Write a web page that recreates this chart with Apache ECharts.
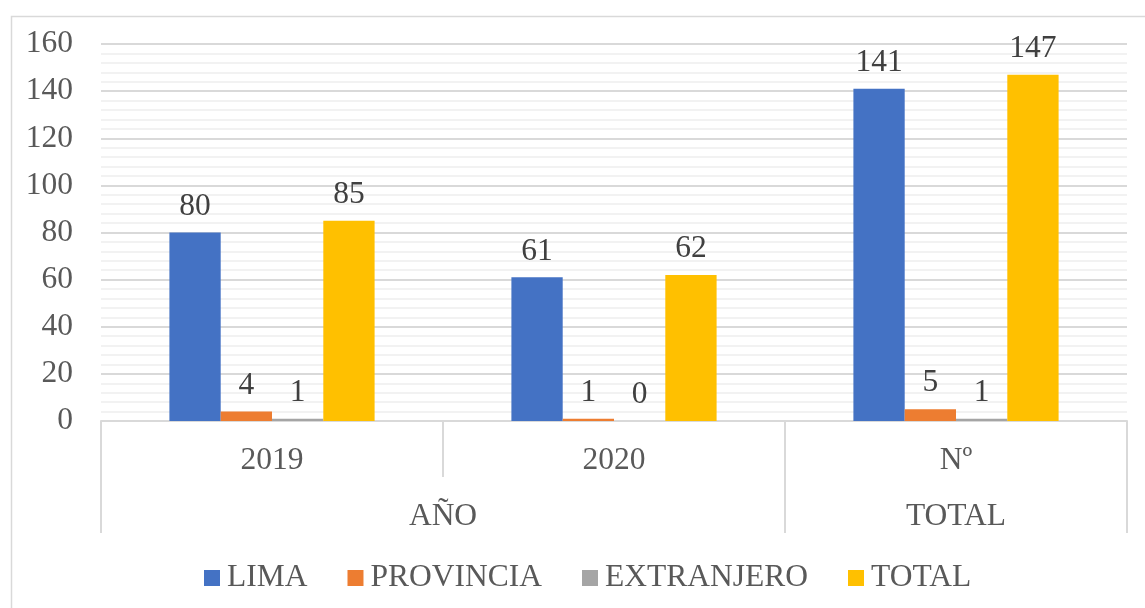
<!DOCTYPE html>
<html>
<head>
<meta charset="utf-8">
<script src="https://cdn.jsdelivr.net/npm/echarts@6/dist/echarts.min.js"></script>
<style>
  html, body { margin: 0; padding: 0; background: #fff; }
  #chart { width: 1145px; height: 608px; }
</style>
</head>
<body>
<div id="chart"></div>
<script>
// categorias (nivel 1 y nivel 2)
const categories = ['2019', '2020', 'Nº'];
const groupLabels = ['AÑO', 'TOTAL'];
// series
const seriesNames = ['LIMA', 'PROVINCIA', 'EXTRANJERO', 'TOTAL'];
const lima = [80, 61, 141];
const provincia = [4, 1, 5];
const extranjero = [1, 0, 1];
const total = [85, 62, 147];
const colors = ['#4472C4', '#ED7D31', '#A5A5A5', '#FFC000'];

const font = 'Liberation Serif';
const fs = 31.5;
const seriesData = [lima, provincia, extranjero, total];

const chart = echarts.init(document.getElementById('chart'));

const option = {
  animation: false,
  color: colors,
  textStyle: { fontFamily: font },
  graphic: [
    {
      type: 'rect',
      left: 9, top: 14,
      shape: { width: 1160, height: 620 },
      style: { fill: 'none', stroke: '#d9d9d9', lineWidth: 1.5 },
      silent: true
    }
  ],
  grid: { left: 101, right: 18, top: 44, bottom: 187 },
  legend: {
    data: seriesNames,
    top: 557,
    left: 199,
    icon: 'rect',
    itemWidth: 16,
    itemHeight: 16,
    itemGap: 40,
    textStyle: { fontFamily: font, fontSize: fs, color: '#595959', padding: [0, 0, 0, 2] }
  },
  xAxis: [
    {
      type: 'category',
      data: categories,
      axisLine: { lineStyle: { color: '#d9d9d9', width: 2 } },
      axisTick: { show: true, length: 56, lineStyle: { color: '#d9d9d9', width: 2 } },
      axisLabel: { fontFamily: font, fontSize: fs, color: '#595959', margin: 24 }
    },
    {
      type: 'value',
      min: 0,
      max: 6,
      position: 'bottom',
      splitLine: { show: false },
      axisLine: { show: false },
      axisTick: {
        show: true,
        length: 112,
        customValues: [0, 4, 6],
        lineStyle: { color: '#d9d9d9', width: 2 }
      },
      axisLabel: {
        fontFamily: font, fontSize: fs, color: '#595959', margin: 80,
        customValues: [2, 5],
        formatter: function (v) { return v === 2 ? groupLabels[0] : groupLabels[1]; }
      }
    }
  ],
  yAxis: {
    type: 'value',
    min: 0,
    max: 160,
    interval: 20,
    axisLine: { show: false },
    axisTick: { show: false },
    axisLabel: { fontFamily: font, fontSize: fs, color: '#595959', margin: 28 },
    splitLine: { lineStyle: { color: '#d9d9d9', width: 2 } },
    minorTick: { show: false, splitNumber: 5 },
    minorSplitLine: { show: true, lineStyle: { color: '#f2f2f2', width: 2 } }
  },
  series: seriesNames.map(function (name, i) {
    return {
      name: name,
      type: 'bar',
      xAxisIndex: 0,
      data: seriesData[i],
      barGap: '0%',
      barCategoryGap: '40%',
      label: {
        show: true,
        position: 'top',
        distance: 10,
        fontFamily: font,
        fontSize: fs,
        color: '#404040'
      }
    };
  })
};

chart.setOption(option);
</script>
</body>
</html>
